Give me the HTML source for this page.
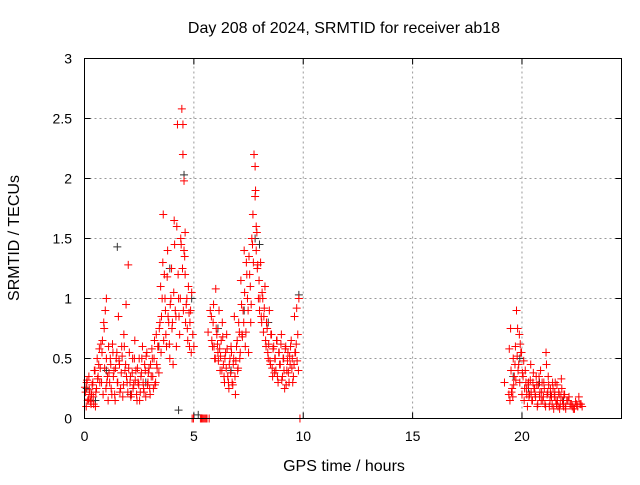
<!DOCTYPE html>
<html><head><meta charset="utf-8"><style>
body{margin:0;background:#fff;font-family:"Liberation Sans",sans-serif}
svg text{font-family:"Liberation Sans",sans-serif;font-size:14px;fill:#000}
svg text.big{font-size:16px}
</style></head><body>
<svg id="c" width="640" height="480">
<text class="big" x="344" y="33" text-anchor="middle">Day 208 of 2024, SRMTID for receiver ab18</text>
<text class="big" x="344" y="471" text-anchor="middle">GPS time / hours</text>
<text class="big" transform="translate(19,238) rotate(-90)" text-anchor="middle">SRMTID / TECUs</text>
<g id="grid"></g><g id="ticks"></g><g id="marks"></g>
<rect x="84.5" y="58.5" width="537" height="360" fill="none" stroke="#000"/>
</svg>
<script>
const xTicks=[0,5,10,15,20];
const yTicks=[0,0.5,1,1.5,2,2.5,3];
const yTickLabels=["0","0.5","1","1.5","2","2.5","3"];
const redT=[0.05,0.1,0.15,0.2,0.25,0.3,0.35,0.4,0.45,0.5,0.55,0.6,0.65,0.7,0.75,0.8,0.85,0.9,0.95,1.0,1.0,1.05,1.1,1.15,1.2,1.25,1.3,1.35,1.4,1.45,1.5,1.55,1.6,1.65,1.7,1.75,1.8,1.85,1.9,1.95,2.0,2.05,2.1,2.15,2.2,2.25,2.3,2.35,2.4,2.45,2.5,2.55,2.6,2.65,2.7,2.75,2.8,2.85,2.9,2.95,3.0,3.05,3.1,3.15,3.2,3.25,3.3,3.35,3.4,3.45,3.5,3.55,3.6,3.65,3.7,3.75,3.8,3.85,3.9,3.95,4.0,4.05,4.1,4.15,4.2,4.25,4.3,4.35,4.4,4.45,4.5,4.5,4.55,4.55,4.6,4.6,4.65,4.7,4.75,4.8,4.85,4.9,4.95,5.0,5.3,5.4,5.5,5.6,5.7,5.8,5.85,5.9,5.95,6.0,6.05,6.1,6.15,6.2,6.25,6.3,6.35,6.4,6.45,6.5,6.55,6.6,6.65,6.7,6.75,6.8,6.85,6.9,6.95,7.0,7.05,7.1,7.15,7.2,7.25,7.3,7.35,7.4,7.45,7.5,7.55,7.6,7.65,7.7,7.75,7.8,7.8,7.85,7.85,7.9,7.95,8.0,8.05,8.1,8.15,8.2,8.25,8.3,8.35,8.4,8.45,8.5,8.55,8.6,8.65,8.7,8.75,8.8,8.85,8.9,8.95,9.0,9.05,9.1,9.15,9.2,9.25,9.3,9.35,9.4,9.45,9.5,9.55,9.6,9.65,9.7,9.75,9.8,9.85,19.2,19.4,19.45,19.5,19.55,19.6,19.65,19.7,19.75,19.8,19.85,19.9,19.95,20.0,20.05,20.1,20.15,20.2,20.25,20.3,20.35,20.4,20.45,20.5,20.55,20.6,20.65,20.7,20.75,20.8,20.85,20.9,20.95,21.0,21.05,21.1,21.15,21.2,21.25,21.3,21.35,21.4,21.45,21.5,21.55,21.6,21.65,21.7,21.75,21.8,21.85,21.9,21.95,22.0,22.1,22.2,22.3,22.4,22.5,22.6,22.7,
0.02,0.08,0.12,0.18,0.22,0.28,0.32,0.38,0.42,0.48,0.52,0.58,0.62,0.68,0.72,0.78,0.82,0.88,0.92,0.98,1.02,1.08,1.12,1.18,1.22,1.28,1.32,1.38,1.42,1.48,1.52,1.58,1.62,1.68,1.72,1.78,1.82,1.88,1.92,1.98,2.02,2.08,2.12,2.18,2.22,2.28,2.32,2.38,2.42,2.48,2.52,2.58,2.62,2.68,2.72,2.78,2.82,2.88,2.92,2.98,3.02,3.08,3.12,3.18,3.22,3.28,3.32,3.38,3.42,3.48,3.52,3.58,3.62,3.68,3.72,3.78,3.82,3.88,3.92,3.98,4.02,4.08,4.12,4.18,4.22,4.28,4.32,4.38,4.42,4.48,4.52,4.58,4.62,4.68,4.72,4.78,4.82,4.88,4.92,4.98,5.35,5.45,5.55,5.65,5.75,5.82,5.88,5.92,5.98,6.02,6.08,6.12,6.18,6.22,6.28,6.32,6.38,6.42,6.48,6.52,6.58,6.62,6.68,6.72,6.78,6.82,6.88,6.92,6.98,7.02,7.08,7.12,7.18,7.22,7.28,7.32,7.38,7.42,7.48,7.52,7.58,7.62,7.68,7.72,7.82,7.88,7.92,7.98,8.02,8.08,8.12,8.18,8.22,8.28,8.32,8.38,8.42,8.48,8.52,8.58,8.62,8.68,8.72,8.78,8.82,8.88,8.92,8.98,9.02,9.08,9.12,9.18,9.22,9.28,9.32,9.38,9.42,9.48,9.52,9.58,9.62,9.68,9.72,9.78,19.42,19.48,19.52,19.58,19.62,19.68,19.72,19.78,19.82,19.88,19.92,19.98,20.02,20.08,20.12,20.18,20.22,20.28,20.32,20.38,20.42,20.48,20.52,20.58,20.62,20.68,20.72,20.78,20.82,20.88,20.92,20.98,21.02,21.08,21.12,21.18,21.22,21.28,21.32,21.38,21.42,21.48,21.52,21.58,21.62,21.68,21.72,21.78,21.82,21.88,21.92,21.98,22.05,22.15,22.25,22.35,22.45,22.55,22.65,22.75];
const redV=[0.22,0.3,0.15,0.35,0.2,0.12,0.28,0.18,0.4,0.1,0.25,0.33,0.45,0.3,0.62,0.55,0.2,0.75,0.9,1.0,0.5,0.35,0.6,0.3,0.45,0.2,0.55,0.4,0.15,0.5,0.3,0.85,0.45,0.25,0.6,0.18,0.7,0.4,0.95,0.3,1.28,0.55,0.35,0.2,0.5,0.28,0.65,0.4,0.15,0.3,0.5,0.22,0.38,0.6,0.25,0.45,0.18,0.55,0.3,0.42,0.2,0.35,0.5,0.25,0.65,0.3,0.45,0.6,0.38,0.8,0.55,1.0,1.7,1.2,0.9,0.6,1.4,0.8,0.5,1.0,0.75,0.45,1.65,0.9,0.6,2.45,1.0,0.7,1.5,2.58,2.45,2.2,1.98,1.4,1.55,1.2,0.95,0.75,1.1,0.6,0.9,1.05,0.7,0.6,0,0,0,0,0,0.85,0.6,0.95,0.5,1.08,0.7,0.55,0.9,0.4,0.65,0.8,0.45,0.3,0.55,0.7,0.35,0.25,0.5,0.6,0.3,0.45,0.85,0.2,0.6,0.4,0.8,0.5,1.15,0.7,0.9,1.4,0.6,1.3,1.0,0.55,1.2,0.8,1.5,1.7,2.2,1.85,2.1,1.6,1.4,1.25,1.0,0.9,1.3,0.8,1.0,0.85,1.1,0.6,0.75,0.5,0.9,0.45,0.7,0.35,0.6,0.5,0.4,0.65,0.3,0.55,0.45,0.7,0.35,0.5,0.25,0.6,0.4,0.55,0.3,0.45,0.65,0.5,0.35,0.85,0.55,0.92,0.7,1.0,0,0.3,0.2,0.15,0.4,0.25,0.5,0.35,0.6,0.9,0.75,0.45,0.3,0.55,0.2,0.35,0.15,0.4,0.25,0.1,0.3,0.2,0.45,0.15,0.3,0.25,0.2,0.35,0.1,0.28,0.18,0.4,0.22,0.15,0.3,0.12,0.55,0.2,0.35,0.1,0.25,0.18,0.3,0.08,0.22,0.15,0.28,0.1,0.2,0.12,0.33,0.15,0.1,0.2,0.08,0.15,0.12,0.1,0.08,0.12,
0.18,0.12,0.26,0.1,0.32,0.16,0.24,0.14,0.2,0.3,0.12,0.4,0.22,0.5,0.35,0.58,0.42,0.3,0.65,0.8,0.42,0.25,0.3,0.15,0.38,0.5,0.25,0.62,0.35,0.2,0.42,0.55,0.3,0.48,0.22,0.38,0.52,0.28,0.6,0.45,0.35,0.22,0.42,0.3,0.18,0.38,0.25,0.5,0.32,0.2,0.42,0.28,0.15,0.35,0.5,0.3,0.22,0.4,0.52,0.28,0.38,0.25,0.45,0.58,0.35,0.5,0.28,0.7,0.42,0.6,0.75,1.1,0.85,1.3,0.65,1.0,0.7,1.18,0.85,0.62,0.95,1.25,0.8,1.05,1.45,0.85,1.6,1.2,0.85,1.0,1.45,1.25,0.9,1.35,0.8,1.0,0.65,0.88,0.8,0.55,0,0,0,0,0,0.72,0.9,0.65,0.8,0.6,0.5,0.75,0.62,0.48,0.58,0.52,0.4,0.68,0.35,0.5,0.42,0.58,0.3,0.45,0.38,0.55,0.28,0.5,0.35,0.48,0.65,0.42,0.72,0.55,0.95,0.68,0.8,1.05,0.72,1.2,0.9,1.35,1.1,0.95,1.45,1.3,1.9,1.55,1.28,1.15,1.0,0.85,1.05,0.72,0.92,0.65,0.8,0.55,0.62,0.48,0.7,0.42,0.58,0.38,0.5,0.65,0.35,0.55,0.45,0.62,0.32,0.5,0.4,0.58,0.28,0.48,0.38,0.52,0.6,0.42,0.3,0.45,0.55,0.62,0.48,0.4,0.58,0.75,0.22,0.18,0.28,0.45,0.32,0.52,0.4,0.7,0.62,0.55,0.38,0.48,0.25,0.3,0.2,0.28,0.18,0.32,0.22,0.15,0.38,0.25,0.18,0.28,0.12,0.35,0.22,0.15,0.3,0.18,0.25,0.1,0.45,0.22,0.28,0.15,0.2,0.12,0.25,0.18,0.3,0.12,0.15,0.22,0.08,0.18,0.25,0.12,0.2,0.1,0.15,0.18,0.12,0.08,0.14,0.1,0.12,0.1];
const grayT=[0.1,0.5,1.0,1.5,2.1,2.8,3.4,3.9,4.3,4.55,4.9,5.2,6.1,6.7,7.3,7.8,8.0,8.4,9.1,9.8,19.6,19.9,20.3,20.8,21.3,21.9];
const grayV=[0.25,0.15,0.4,1.43,0.2,0.3,0.6,1.25,0.07,2.03,1.0,0.03,0.75,0.4,0.9,1.5,1.45,0.8,0.5,1.03,0.35,0.5,0.25,0.3,0.2,0.15];
const X0=84.5,X1=621.5,Y0=418.5,Y1=58.5,XMAX=24.55,YMAX=3;
const sx=t=>X0+t/XMAX*(X1-X0), sy=v=>Y0-v/YMAX*(Y0-Y1);
const NS="http://www.w3.org/2000/svg";
function mk(tag,at,par){const e=document.createElementNS(NS,tag);for(const k in at)e.setAttribute(k,at[k]);document.getElementById(par).appendChild(e);return e;}
xTicks.forEach((t,i)=>{const x=sx(t);
 if(t>0){const g=mk('line',{x1:x,x2:x,y1:Y0,y2:Y1,stroke:'#999','stroke-dasharray':'2,3'},'grid');
 
 }
 const tk=mk('path',{d:`M${x} ${Y0}v-6M${x} ${Y1}v6`,stroke:'#000'},'ticks');
 
 
 const l=mk('text',{x:x,y:441,'text-anchor':'middle'},'ticks');l.textContent=String(t);
 
 });
yTicks.forEach((v,i)=>{const y=sy(v);
 if(v>0&&v<3){const g=mk('line',{x1:X0,x2:X1,y1:y,y2:y,stroke:'#999','stroke-dasharray':'2,3'},'grid');
 
 }
 const tk=mk('path',{d:`M${X0} ${y}h6M${X1} ${y}h-6`,stroke:'#000'},'ticks');
 
 
 const l=mk('text',{x:72,y:y+5,'text-anchor':'end'},'ticks');l.textContent=yTickLabels[i];
 
 });
function plus(t,v,col,name){const x=sx(t),y=sy(v);
 const p=mk('path',{d:`M${x-4} ${y}h8M${x} ${y-4}v8`,stroke:col,'stroke-width':1},'marks');
 
 }
grayT.forEach((t,i)=>plus(t,grayV[i],'#333','gray-point'));
redT.forEach((t,i)=>plus(t,redV[i],'#ff0000','red-point'));
</script>
</body></html>
